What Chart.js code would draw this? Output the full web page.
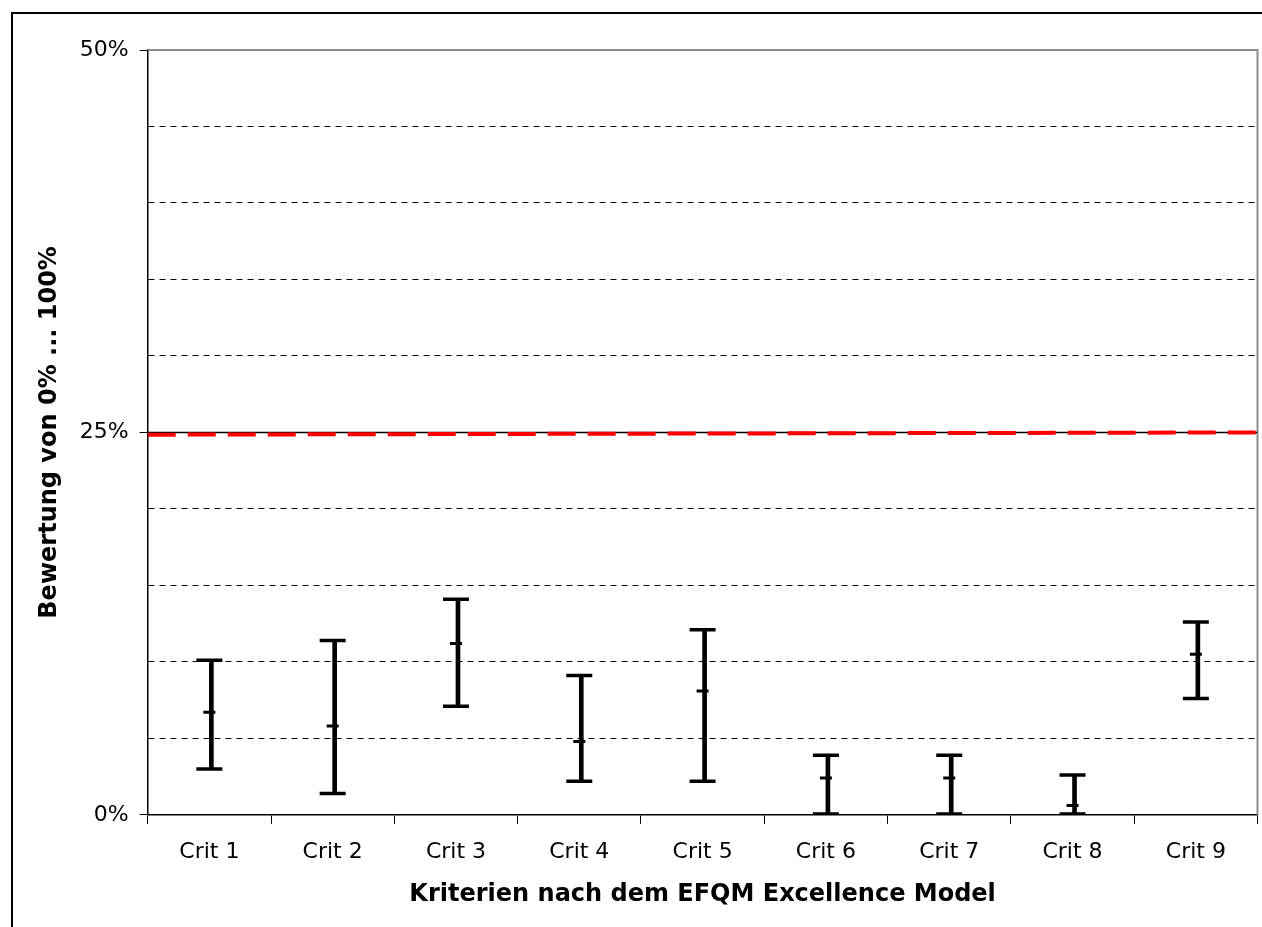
<!DOCTYPE html>
<html>
<head>
<meta charset="utf-8">
<script src="https://cdn.jsdelivr.net/npm/chart.js@4"></script>
<style>
  html, body { margin: 0; background: #fff; overflow: hidden; }
  #frame { position: absolute; left: 11px; top: 12px; width: 1251px; height: 915px;
           border-left: 2px solid #000; border-top: 2px solid #000; box-sizing: border-box; }
  #wrap { position: absolute; left: 0; top: 0; width: 1274px; height: 927px; }
</style>
</head>
<body>
<div id="frame"></div>
<div id="wrap"><canvas id="myChart"></canvas></div>
<script>
var labels = ["Crit 1","Crit 2","Crit 3","Crit 4","Crit 5","Crit 6","Crit 7","Crit 8","Crit 9"];
var lowValues  = [3.0, 1.4, 7.1, 2.2, 2.2, 0.05, 0.05, 0.05, 7.6];
var midValues  = [6.7, 5.8, 11.2, 4.8, 8.1, 2.4, 2.4, 0.6, 10.5];
var highValues = [10.1, 11.4, 14.1, 9.1, 12.1, 3.9, 3.9, 2.6, 12.6];
var refLine = [24.85, 25.0];   // red dashed line, left -> right
var majorLine = [25, 25];

var ranges = labels.map(function(l, i){ return [lowValues[i], highValues[i]]; });

var frameBox = {
  id: "frameBox",
  beforeDatasetsDraw: function(chart){
    var a = chart.chartArea, c = chart.ctx;
    c.save();
    c.strokeStyle = "#8c8c8c";
    c.lineWidth = 2;
    c.beginPath();
    c.moveTo(a.left, a.top);
    c.lineTo(a.right, a.top);
    c.lineTo(a.right, a.bottom);
    c.stroke();
    c.restore();
  }
};

new Chart("myChart", {
  type: "bar",
  data: {
    labels: labels,
    datasets: [
      {
        type: "line", xAxisID: "x2",
        data: [{x:0, y:refLine[0]}, {x:1, y:refLine[1]}],
        borderColor: "#ff0000", borderWidth: 4, borderDash: [28, 12],
        pointRadius: 0, order: 0
      },
      {
        type: "line", xAxisID: "x2",
        data: [{x:0, y:majorLine[0]}, {x:1, y:majorLine[1]}],
        borderColor: "#000", borderWidth: 1.5,
        pointRadius: 0, order: 1
      },
      {
        data: ranges, backgroundColor: "#000", borderWidth: 0,
        barThickness: 4, order: 3
      },
      {
        type: "line", data: highValues, showLine: false,
        pointStyle: "line", pointRadius: 13, pointBorderWidth: 3.5,
        pointBorderColor: "#000", pointHoverRadius: 13, order: 2
      },
      {
        type: "line", data: lowValues, showLine: false,
        pointStyle: "line", pointRadius: 13, pointBorderWidth: 3.5,
        pointBorderColor: "#000", pointHoverRadius: 13, order: 2
      },
      {
        type: "line", data: midValues, showLine: false,
        pointStyle: "line", pointRadius: 6, pointBorderWidth: 3,
        pointBorderColor: "#000", pointHoverRadius: 6, order: 2
      }
    ]
  },
  plugins: [frameBox],
  options: {
    responsive: true,
    maintainAspectRatio: false,
    animation: { duration: 0 },
    layout: { padding: { top: 50, right: 5, left: 35, bottom: 18 } },
    plugins: { legend: { display: false }, tooltip: { enabled: false } },
    scales: {
      x: {
        offset: true,
        grid: { offset: true, drawOnChartArea: false, color: "#000", tickLength: 9 },
        border: { color: "#000", width: 1.5 },
        ticks: { color: "#000", font: { family: "DejaVu Sans", size: 22 }, padding: 15 },
        title: { display: true, text: "Kriterien nach dem EFQM Excellence Model", color: "#000",
                 font: { family: "DejaVu Sans", size: 24, weight: "bold" }, padding: { top: 0, bottom: 0 } }
      },
      x2: { type: "linear", min: 0, max: 1, display: false, offset: false },
      y: {
        min: 0, max: 50,
        ticks: {
          stepSize: 5, color: "#000", padding: 11,
          font: { family: "DejaVu Sans", size: 22 },
          callback: function(v){ return v % 25 === 0 ? v + "%" : ""; }
        },
        grid: {
          color: function(ctx){ var v = ctx.tick.value; return (v === 0 || v === 25 || v === 50) ? "rgba(0,0,0,0)" : "#000"; },
          tickColor: function(ctx){ return ctx.tick.value % 25 === 0 ? "#000" : "rgba(0,0,0,0)"; },
          tickLength: 8, lineWidth: 1
        },
        border: { color: "#000", width: 1.5, dash: [6, 5] },
        title: { display: true, text: "Bewertung von 0% ... 100%", color: "#000",
                 font: { family: "DejaVu Sans", size: 24, weight: "bold" }, padding: { top: 0, bottom: 5 } }
      }
    }
  }
});
</script>
</body>
</html>
